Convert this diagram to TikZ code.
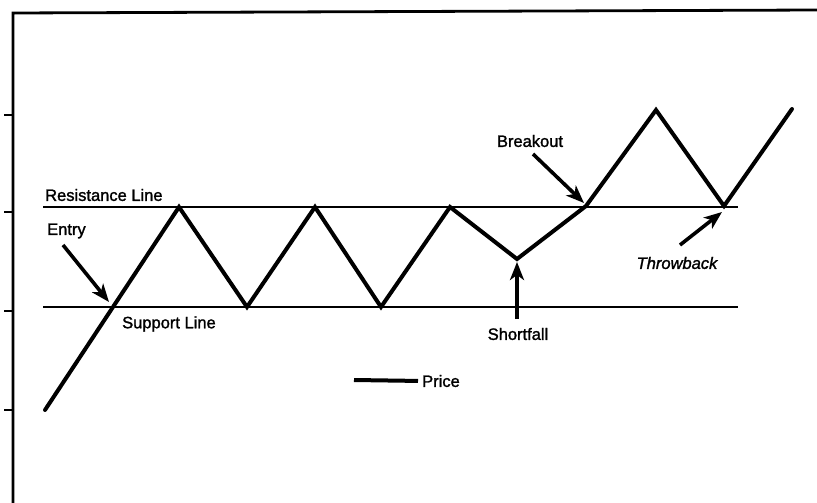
\documentclass[tikz,border=0pt]{standalone}
\usepackage{fontspec}
\setmainfont{Liberation Sans}
\newfontfamily\lblfont{Liberation Sans}[FakeBold=1.5]
\newfontfamily\lblitfont{Liberation Sans Italic}[FakeBold=1.5]
\usetikzlibrary{arrows.meta}
\begin{document}
\begin{tikzpicture}[x=1pt,y=-1pt,
  axisline/.style={line width=2.8pt,black},
  levelline/.style={line width=1.6pt,black},
  priceline/.style={line width=4pt,black,line join=miter,line cap=round},
  callout/.style={line width=3.6pt,black,-{Stealth[length=18pt,width=14pt,inset=5pt]}},
  lbl/.style={font=\lblfont\fontsize{16.5}{18}\selectfont,inner sep=0pt}]
\useasboundingbox (0,0) rectangle (817,503);
% frame / axis
\coordinate (axTop) at (13,13);
\coordinate (axBot) at (13,503);
\coordinate (topR) at (817,10);
\draw[axisline] (axBot) -- (axTop) -- (topR);
\foreach \y in {115,212,311,410}{
  \draw[axisline] (4,\y) -- (13,\y);
}
% level lines
\coordinate (resL) at (43,207);
\coordinate (resR) at (738,207);
\coordinate (supL) at (43,307);
\coordinate (supR) at (738,307);
\draw[levelline] (resL) -- (resR);
\draw[levelline] (supL) -- (supR);
% price
\coordinate (p0) at (45,410);
\coordinate (p1) at (179,207);
\coordinate (p2) at (247,307);
\coordinate (p3) at (315,207);
\coordinate (p4) at (381,307);
\coordinate (p5) at (450,207);
\coordinate (p6) at (517,259);
\coordinate (p7) at (586,206);
\coordinate (p8) at (656,110);
\coordinate (p9) at (724,206);
\coordinate (p10) at (792,109);
\draw[priceline] (p0) -- (p1) -- (p2) -- (p3) -- (p4) -- (p5) -- (p6) -- (p7) -- (p8) -- (p9) -- (p10);
% labels
\node[lbl,anchor=west] (res) at (45,195) {Resistance Line};
\node[lbl,anchor=west] (entry) at (47,231) {Entry};
\node[lbl,anchor=west] (sup) at (122,324) {Support Line};
\node[lbl,anchor=center] (brk) at (530,141) {Breakout};
\node[lbl,anchor=center,font=\lblfont\fontsize{16.5}{18}\selectfont] (sf) at (518,334) {Shortfall};
\node[lbl,anchor=center,font=\lblitfont\fontsize{16.5}{18}\selectfont] (tb) at (677,263) {Throwback};
\node[lbl,anchor=west] (price) at (422,381) {Price};
% legend
\coordinate (legL) at (354,380);
\draw[priceline,line cap=butt,shorten >=4pt] (legL) -- (price.west);
% arrows
\coordinate (entryTail) at (63,245);
\coordinate (entryTip) at (109,302);
\draw[callout] (entryTail) -- (entryTip);
\coordinate (brkTail) at (533,154);
\coordinate (brkTip) at (584,203);
\draw[callout] (brkTail) -- (brkTip);
\coordinate (sfTail) at (517,319);
\coordinate (sfTip) at (517,262);
\draw[callout] (sfTail) -- (sfTip);
\coordinate (tbTail) at (680,245);
\coordinate (tbTip) at (722,212);
\draw[callout] (tbTail) -- (tbTip);
\end{tikzpicture}
\end{document}
